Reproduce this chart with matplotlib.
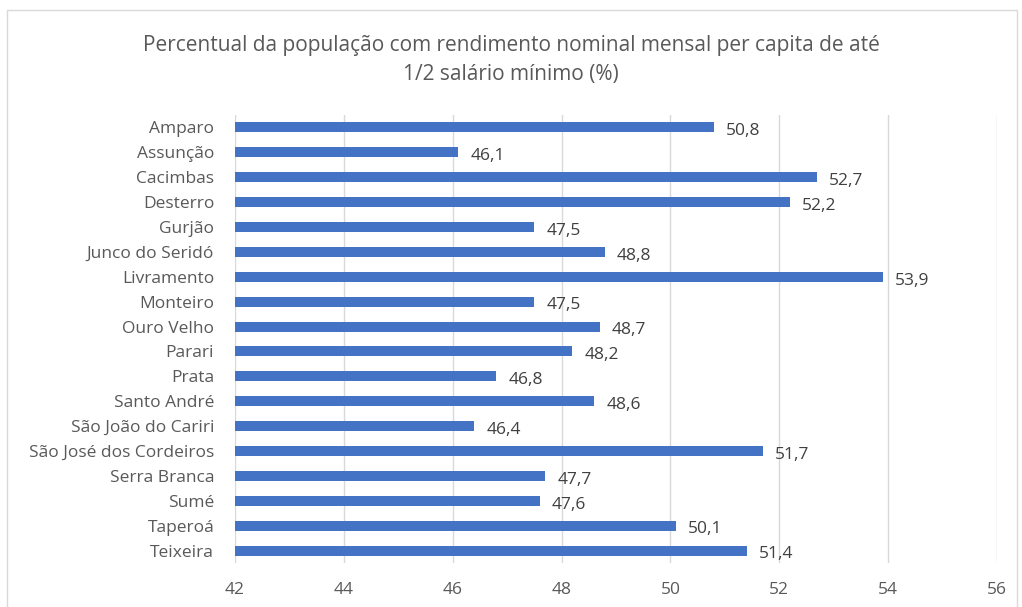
import matplotlib
matplotlib.use("Agg")
import matplotlib.pyplot as plt
from matplotlib.patches import Rectangle

municipios = ["Amparo", "Assunção", "Cacimbas", "Desterro", "Gurjão", "Junco do Seridó",
              "Livramento", "Monteiro", "Ouro Velho", "Parari", "Prata", "Santo André",
              "São João do Cariri", "São José dos Cordeiros", "Serra Branca", "Sumé",
              "Taperoá", "Teixeira"]
percentuais = [50.8, 46.1, 52.7, 52.2, 47.5, 48.8, 53.9, 47.5, 48.7, 48.2, 46.8, 48.6,
               46.4, 51.7, 47.7, 47.6, 50.1, 51.4]
x_ticks = [42, 44, 46, 48, 50, 52, 54, 56]
titulo = "Percentual da população com rendimento nominal mensal per capita de até\n1/2 salário mínimo (%)"

plt.rcParams['font.family'] = ['Open Sans', 'DejaVu Sans']
text_color = "#595959"
bar_color = "#4472C4"
grid_color = "#D9D9D9"

fig = plt.figure(figsize=(10.22, 6.07), dpi=100)
fig.patches.append(Rectangle((7 / 1022, -0.01), (1017 - 7) / 1022, 1 - 10 / 607 + 0.01,
                             transform=fig.transFigure, fill=False,
                             edgecolor="#D9D9D9", linewidth=1))

ax = fig.add_axes([235 / 1022, 1 - 563 / 607, (997 - 235) / 1022, (563 - 115) / 607])
y = list(range(len(municipios)))
ax.barh(y, [v - 42 for v in percentuais], left=42, height=0.4, color=bar_color, zorder=3)
for yi, v in zip(y, percentuais):
    ax.text(v + 0.22, yi + 0.15, f"{v:.1f}".replace(".", ","), va="center", ha="left",
            fontsize=12.5, color="#404040")

ax.set_xlim(42, 56)
ax.set_ylim(len(municipios) - 0.5, -0.5)
ax.set_xticks(x_ticks)
ax.set_xticklabels([str(t) for t in x_ticks])
ax.set_yticks(y)
ax.set_yticklabels(municipios)
ax.tick_params(axis="both", length=0, colors=text_color, labelsize=12.5)
ax.tick_params(axis="x", pad=14)
ax.tick_params(axis="y", pad=15)
ax.grid(axis="x", color=grid_color, linewidth=1, zorder=0)
for s in ax.spines.values():
    s.set_visible(False)

fig.text(511 / 1022, 1 - 60 / 607, titulo, ha="center", va="center", fontsize=15,
         color=text_color, linespacing=1.45)

fig.savefig("out.png", dpi=100)
